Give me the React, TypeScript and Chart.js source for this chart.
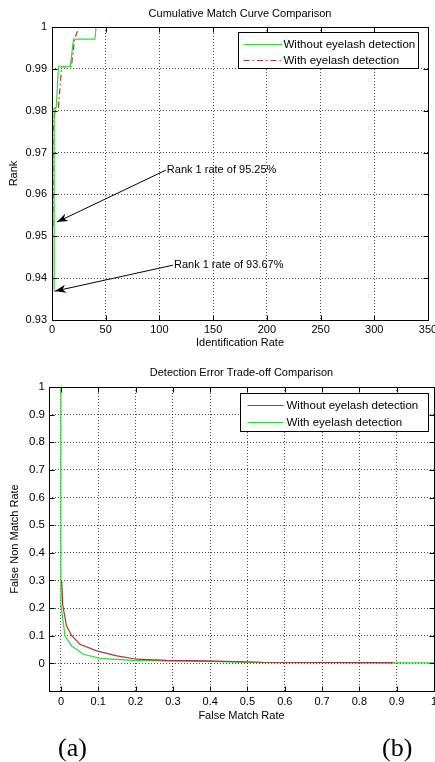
import React, { useEffect, useRef } from "react";
import { Chart, registerables } from "chart.js";

Chart.register(...registerables);

const FONT_FAMILY = "'Liberation Sans', Arial, Helvetica, sans-serif";

// ---------- (a) Cumulative Match Curve ----------
const cmcTitle = "Cumulative Match Curve Comparison";
const cmcXLabel = "Identification Rate";
const cmcYLabel = "Rank";
const cmcSeriesNames = ["Without eyelash detection", "With eyelash detection"];
const cmcXTicks = [0, 50, 100, 150, 200, 250, 300, 350];
const cmcYTicks = [0.93, 0.94, 0.95, 0.96, 0.97, 0.98, 0.99, 1];
const cmcWithoutX = [2, 2, 4, 6, 17, 20, 40, 41, 330];
const cmcWithoutY = [0.9367, 0.9805, 0.9808, 0.9905, 0.9905, 0.9971, 0.9971, 1, 1];
const cmcWithX = [1, 1, 3, 6, 9, 18, 21, 25, 330];
const cmcWithY = [0.9525, 0.975, 0.9808, 0.9808, 0.9905, 0.9905, 0.9971, 1, 1];
const cmcNoteTexts = ["Rank 1 rate of 95.25%", "Rank 1 rate of 93.67%"];
const cmcNoteX = [106, 112.6];
const cmcNoteY = [0.9658, 0.9431];
const cmcTipX = [4.6, 2.8];
const cmcTipY = [0.9534, 0.9369];

// ---------- (b) Detection Error Trade-off ----------
const detTitle = "Detection Error Trade-off Comparison";
const detXLabel = "False Match Rate";
const detYLabel = "False Non Match Rate";
const detSeriesNames = ["Without eyelash detection", "With eyelash detection"];
const detXTicks = [0, 0.1, 0.2, 0.3, 0.4, 0.5, 0.6, 0.7, 0.8, 0.9, 1];
const detYTicks = [0, 0.1, 0.2, 0.3, 0.4, 0.5, 0.6, 0.7, 0.8, 0.9, 1];
const detWithoutX = [0.002, 0.005, 0.015, 0.029, 0.051, 0.096, 0.15, 0.203, 0.284, 0.355, 0.42, 0.54, 0.89];
const detWithoutY = [0.3, 0.21, 0.135, 0.1, 0.069, 0.045, 0.027, 0.015, 0.011, 0.01, 0.008, 0.004, 0.003];
const detWithX = [0, 0, 0.011, 0.029, 0.06, 0.105, 0.194, 0.3, 0.42, 0.54, 1];
const detWithY = [1, 0.21, 0.099, 0.063, 0.033, 0.018, 0.011, 0.008, 0.006, 0.003, 0.002];

const panelLabels = ["(a)", "(b)"];

const GREEN = "#2fdc2f";
const RED = "#a8353a";
const GRID = "rgba(0,0,0,0.7)";

function zip(xs: number[], ys: number[]) {
  return xs.map((x, i) => ({ x, y: ys[i] }));
}

function font(size: number) {
  return { family: FONT_FAMILY, size, weight: "normal" as const, lineHeight: 1.2 };
}

type PanelOpts = {
  title: string;
  titleY: number;
  legend: { right: number; top: number; w: number; h: number; lineX0: number; lineX1: number; textX: number; rows: number[] };
  notes?: { texts: string[]; x: number[]; y: number[]; tipX: number[]; tipY: number[] };
};

function makePlugin(o: PanelOpts) {
  return {
    id: "matlabLook",
    afterDatasetsDraw(chart: any) {
      if (!o.notes) return;
      const { ctx, scales } = chart;
      const n = o.notes;
      ctx.save();
      ctx.strokeStyle = "#000";
      ctx.fillStyle = "#000";
      ctx.lineWidth = 1;
      ctx.setLineDash([]);
      ctx.font = `11px ${FONT_FAMILY}`;
      ctx.textAlign = "left";
      ctx.textBaseline = "middle";
      n.texts.forEach((t, i) => {
        const sx = scales.x.getPixelForValue(n.x[i]);
        const sy = scales.y.getPixelForValue(n.y[i]);
        const ex = scales.x.getPixelForValue(n.tipX[i]);
        const ey = scales.y.getPixelForValue(n.tipY[i]);
        ctx.beginPath();
        ctx.moveTo(sx, sy);
        ctx.lineTo(ex, ey);
        ctx.stroke();
        const ang = Math.atan2(ey - sy, ex - sx);
        const L = 11;
        const W = 4;
        const bx = ex - L * Math.cos(ang);
        const by = ey - L * Math.sin(ang);
        ctx.beginPath();
        ctx.moveTo(ex, ey);
        ctx.lineTo(bx + W * Math.sin(ang), by - W * Math.cos(ang));
        ctx.lineTo(ex - 0.7 * L * Math.cos(ang), ey - 0.7 * L * Math.sin(ang));
        ctx.lineTo(bx - W * Math.sin(ang), by + W * Math.cos(ang));
        ctx.closePath();
        ctx.fill();
        ctx.fillText(t, sx + 1, sy);
      });
      ctx.restore();
    },
    afterDraw(chart: any) {
      const { ctx, chartArea: a, scales } = chart;
      ctx.save();
      ctx.setLineDash([]);
      ctx.strokeStyle = "#000";
      ctx.lineWidth = 1;
      const L = Math.round(a.left) + 0.5;
      const R = Math.round(a.right) + 0.5;
      const T = Math.round(a.top) + 0.5;
      const B = Math.round(a.bottom) + 0.5;
      ctx.strokeRect(L, T, R - L, B - T);
      const tl = 5;
      ctx.beginPath();
      scales.x.ticks.forEach((t: any) => {
        const p = Math.round(scales.x.getPixelForValue(t.value)) + 0.5;
        ctx.moveTo(p, B);
        ctx.lineTo(p, B - tl);
        ctx.moveTo(p, T);
        ctx.lineTo(p, T + tl);
      });
      scales.y.ticks.forEach((t: any) => {
        const p = Math.round(scales.y.getPixelForValue(t.value)) + 0.5;
        ctx.moveTo(L, p);
        ctx.lineTo(L + tl, p);
        ctx.moveTo(R, p);
        ctx.lineTo(R - tl, p);
      });
      ctx.stroke();

      // title
      ctx.fillStyle = "#000";
      ctx.font = `11px ${FONT_FAMILY}`;
      ctx.textAlign = "center";
      ctx.textBaseline = "middle";
      ctx.fillText(o.title, (a.left + a.right) / 2, o.titleY);

      // legend
      const lg = o.legend;
      const bx = Math.round(a.right - lg.right - lg.w) + 0.5;
      const by = Math.round(a.top + lg.top) + 0.5;
      ctx.fillStyle = "#fff";
      ctx.fillRect(bx, by, lg.w, lg.h);
      ctx.strokeStyle = "#000";
      ctx.strokeRect(bx, by, lg.w, lg.h);
      ctx.font = `11.5px ${FONT_FAMILY}`;
      ctx.textAlign = "left";
      chart.data.datasets.forEach((ds: any, i: number) => {
        const y = Math.round(by + lg.rows[i]) + 0.5;
        ctx.strokeStyle = ds.borderColor;
        ctx.lineWidth = 1;
        ctx.setLineDash(ds.borderDash || []);
        ctx.beginPath();
        ctx.moveTo(bx + lg.lineX0, y);
        ctx.lineTo(bx + lg.lineX1, y);
        ctx.stroke();
        ctx.setLineDash([]);
        ctx.fillStyle = "#000";
        ctx.fillText(ds.label, bx + lg.textX, y);
      });
      ctx.restore();
    },
  };
}

function axisCommon(ticksArr: number[], fixSize: (s: any) => void, label: string, tickPad: number, titlePad: any, fontSize: number) {
  return {
    type: "linear" as const,
    afterBuildTicks: (s: any) => {
      s.ticks = ticksArr.map((v) => ({ value: v }));
    },
    afterFit: (s: any) => {
      fixSize(s);
      s.paddingLeft = 0;
      s.paddingRight = 0;
      s.paddingTop = 0;
      s.paddingBottom = 0;
    },
    grid: { color: GRID, lineWidth: 1, drawTicks: false },
    border: { display: false, dash: [1, 2] },
    ticks: {
      color: "#000",
      font: font(fontSize),
      padding: tickPad,
      autoSkip: false,
      maxRotation: 0,
      minRotation: 0,
      callback: (v: any) => String(v),
    },
    title: { display: true, text: label, color: "#000", font: font(11), padding: titlePad },
  };
}

function cmcConfig(): any {
  return {
    type: "line",
    data: {
      datasets: [
        {
          label: cmcSeriesNames[0],
          data: zip(cmcWithoutX, cmcWithoutY),
          borderColor: GREEN,
          borderWidth: 1.2,
          pointRadius: 0,
          tension: 0,
          fill: false,
        },
        {
          label: cmcSeriesNames[1],
          data: zip(cmcWithX, cmcWithY),
          borderColor: RED,
          borderDash: [6, 3, 1.5, 3],
          borderWidth: 1.2,
          pointRadius: 0,
          tension: 0,
          fill: false,
        },
      ],
    },
    options: {
      animation: false,
      responsive: false,
      maintainAspectRatio: false,
      events: [],
      layout: { padding: { top: 27, right: 7, left: 0, bottom: 0 } },
      plugins: { legend: { display: false }, title: { display: false }, tooltip: { enabled: false } },
      scales: {
        x: {
          ...axisCommon(cmcXTicks, (s) => (s.height = 40), cmcXLabel, 3, { top: 0, bottom: 10 }, 11),
          min: 0,
          max: 350,
        },
        y: {
          ...axisCommon(cmcYTicks, (s) => (s.width = 52), cmcYLabel, 5, { top: 7, bottom: 0 }, 11),
          min: 0.93,
          max: 1,
        },
      },
    },
    plugins: [
      makePlugin({
        title: cmcTitle,
        titleY: 14,
        legend: { right: 10, top: 5, w: 180, h: 36, lineX0: 5, lineX1: 44, textX: 45, rows: [11, 27] },
        notes: { texts: cmcNoteTexts, x: cmcNoteX, y: cmcNoteY, tipX: cmcTipX, tipY: cmcTipY },
      }),
    ],
  };
}

function detConfig(): any {
  return {
    type: "line",
    data: {
      datasets: [
        {
          label: detSeriesNames[0],
          data: zip(detWithoutX, detWithoutY),
          borderColor: RED,
          borderWidth: 1.2,
          pointRadius: 0,
          tension: 0,
          fill: false,
        },
        {
          label: detSeriesNames[1],
          data: zip(detWithX, detWithY),
          borderColor: GREEN,
          borderWidth: 1.2,
          pointRadius: 0,
          tension: 0,
          fill: false,
        },
      ],
    },
    options: {
      animation: false,
      responsive: false,
      maintainAspectRatio: false,
      events: [],
      layout: { padding: { top: 27, right: 1, left: 0, bottom: 0 } },
      plugins: { legend: { display: false }, title: { display: false }, tooltip: { enabled: false } },
      scales: {
        x: {
          ...axisCommon(detXTicks, (s) => (s.height = 44), detXLabel, 4, { top: 0, bottom: 12 }, 11),
          min: -0.032,
          max: 1,
        },
        y: {
          ...axisCommon(detYTicks, (s) => (s.width = 49), detYLabel, 4, { top: 8, bottom: 0 }, 11.5),
          min: -0.1,
          max: 1,
        },
      },
    },
    plugins: [
      makePlugin({
        title: detTitle,
        titleY: 13,
        legend: { right: 6, top: 6, w: 188, h: 38, lineX0: 7, lineX1: 43, textX: 46, rows: [11, 28] },
      }),
    ],
  };
}

function ChartCanvas({ width, height, top, make }: { width: number; height: number; top: number; make: () => any }) {
  const ref = useRef<HTMLCanvasElement>(null);
  useEffect(() => {
    if (!ref.current) return;
    const chart = new Chart(ref.current, make());
    return () => chart.destroy();
  }, []);
  return (
    <canvas
      ref={ref}
      width={width}
      height={height}
      style={{ position: "absolute", left: 0, top, width, height, display: "block" }}
    />
  );
}

export default function App() {
  const labelStyle: React.CSSProperties = {
    position: "absolute",
    top: 734,
    fontFamily: "'Liberation Serif', 'Times New Roman', serif",
    fontSize: 26,
    lineHeight: "28px",
    color: "#000",
  };
  return (
    <div style={{ position: "absolute", left: 0, top: 0, width: 435, height: 762, background: "#fff", overflow: "hidden" }}>
      <ChartCanvas width={435} height={360} top={0} make={cmcConfig} />
      <ChartCanvas width={435} height={375} top={360} make={detConfig} />
      <div style={{ ...labelStyle, left: 58 }}>{panelLabels[0]}</div>
      <div style={{ ...labelStyle, left: 382 }}>{panelLabels[1]}</div>
    </div>
  );
}
